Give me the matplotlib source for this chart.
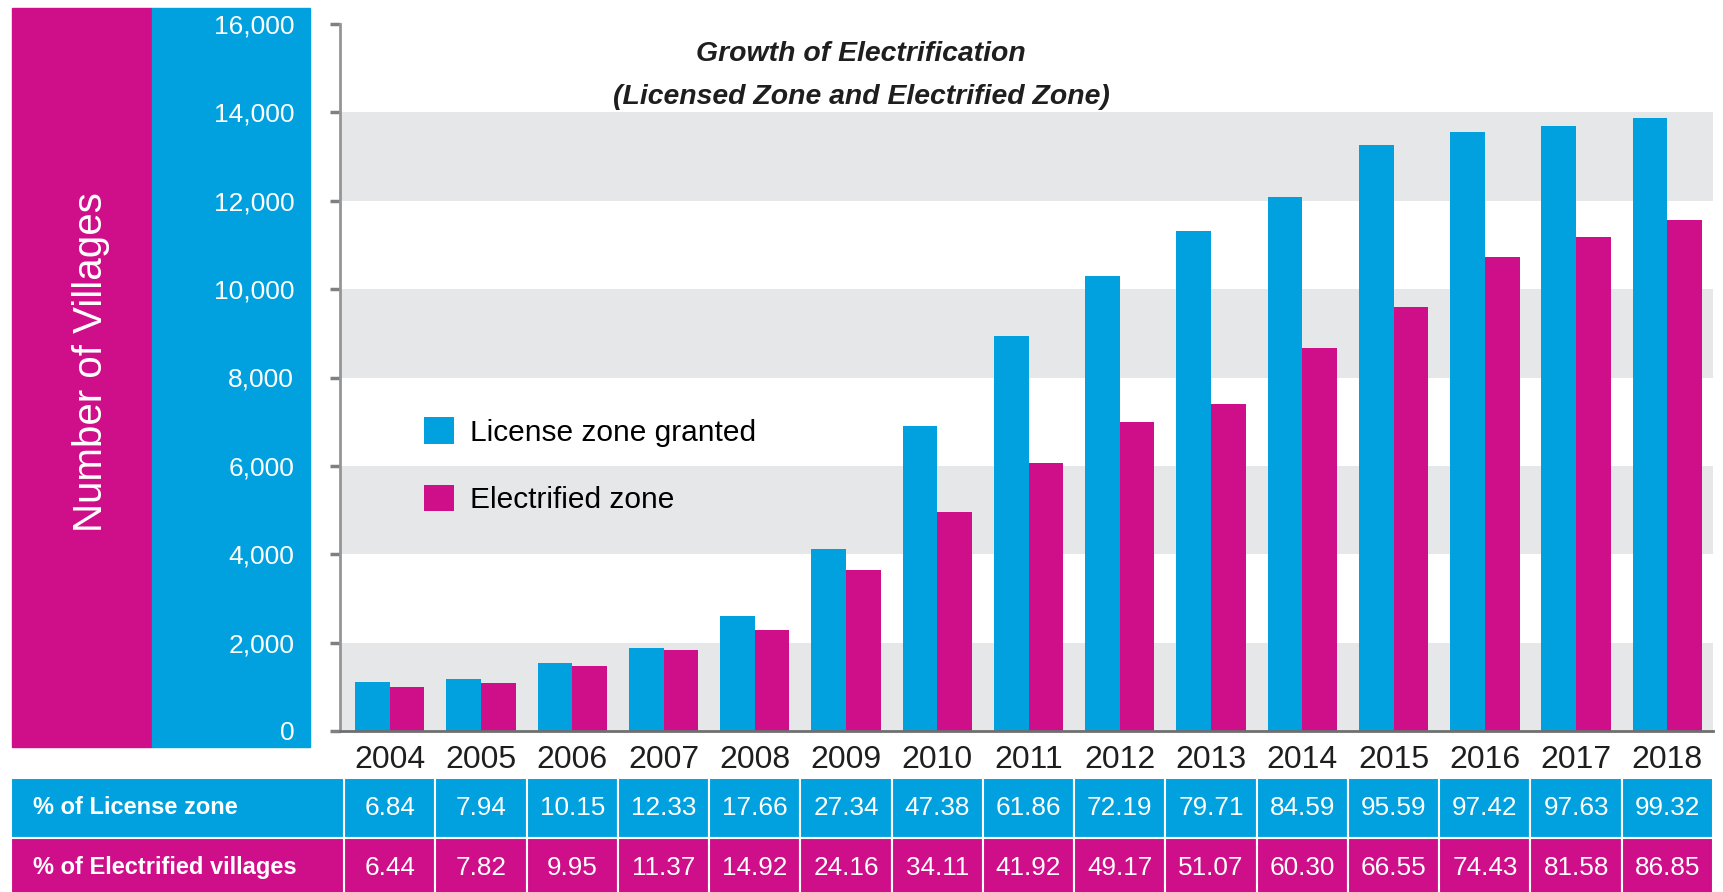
import numpy as np
import matplotlib.pyplot as plt
from matplotlib import font_manager
from matplotlib.patches import Rectangle

# ------------------------------- DATA ---------------------------------------
years = ["2004", "2005", "2006", "2007", "2008", "2009", "2010", "2011",
         "2012", "2013", "2014", "2015", "2016", "2017", "2018"]
license_zone = [1110, 1180, 1530, 1880, 2610, 4130, 6900, 8950,
                10300, 11320, 12090, 13260, 13560, 13690, 13880]
electrified_zone = [1000, 1090, 1470, 1830, 2280, 3640, 4950, 6070,
                    7000, 7400, 8660, 9590, 10730, 11180, 11570]
pct_license = ["6.84", "7.94", "10.15", "12.33", "17.66", "27.34", "47.38", "61.86",
               "72.19", "79.71", "84.59", "95.59", "97.42", "97.63", "99.32"]
pct_electrified = ["6.44", "7.82", "9.95", "11.37", "14.92", "24.16", "34.11", "41.92",
                   "49.17", "51.07", "60.30", "66.55", "74.43", "81.58", "86.85"]
row_labels = ["% of License zone", "% of Electrified villages"]
series_labels = ["License zone granted", "Electrified zone"]
yticks = np.arange(0, 16001, 2000)

# ------------------------------- STYLE --------------------------------------
BLUE = "#00A1DE"
MAGENTA = "#CF0F89"
BAND = "#E6E7E8"

def has_font(name):
    try:
        font_manager.findfont(font_manager.FontProperties(family=name),
                              fallback_to_default=False)
        return True
    except ValueError:
        return False

NARROW = has_font("Liberation Sans Narrow")
BASE = "Liberation Sans"
COND = "Liberation Sans Narrow" if NARROW else BASE
k = 1.2 if NARROW else 1.0  # narrow face needs a bigger size for the same width

plt.rcParams["font.family"] = [BASE, "DejaVu Sans"]

W, H = 1723, 892
fig = plt.figure(figsize=(W / 100, H / 100), dpi=100)

# left coloured panel behind the y labels
fig.patches.append(Rectangle((12 / W, 1 - 747 / H), 140 / W, 739 / H,
                             transform=fig.transFigure, color=MAGENTA, zorder=-2))
fig.patches.append(Rectangle((152 / W, 1 - 747 / H), 158 / W, 739 / H,
                             transform=fig.transFigure, color=BLUE, zorder=-2))

# ------------------------------- MAIN CHART ---------------------------------
ax = fig.add_axes([340 / W, 1 - 731 / H, 1373 / W, 707 / H])
ax.patch.set_alpha(0)
x = np.arange(len(years))

for lo in yticks[::2][:-1]:
    ax.axhspan(lo, lo + 2000, color=BAND, zorder=0, lw=0)

ax.bar(x - 0.19, license_zone, 0.38, color=BLUE, label=series_labels[0], zorder=2)
ax.bar(x + 0.19, electrified_zone, 0.38, color=MAGENTA, label=series_labels[1], zorder=2)

ax.set_xlim(-0.545, 14.5)
ax.set_ylim(0, 16000)
ax.set_yticks(yticks)
ax.set_yticklabels([f"{v:,}" for v in yticks])
ax.set_xticks(x)
ax.set_xticklabels(years)

for s in ["top", "right"]:
    ax.spines[s].set_visible(False)
ax.spines["left"].set_color("#959595")
ax.spines["left"].set_linewidth(2)
ax.spines["bottom"].set_color("#6f6f6f")
ax.spines["bottom"].set_linewidth(2)

ax.tick_params(axis="y", color="#808080", labelcolor="white", length=7, width=2.5,
               pad=26, labelsize=19)
ax.tick_params(axis="x", length=0, pad=10, labelsize=23, labelcolor="#1e1e1e")

ax.set_ylabel("Number of Villages", color="white", fontsize=29)
ax.yaxis.set_label_coords(-0.1675, 0.522)

ax.text(0.3795, 0.927, "Growth of Electrification\n(Licensed Zone and Electrified Zone)",
        transform=ax.transAxes, ha="center", va="center", multialignment="center",
        fontsize=20.4 * k, fontweight="bold", fontstyle="italic", family=[COND, BASE],
        linespacing=1.87, color="#1e1e1e")

ax.legend(loc="upper left", bbox_to_anchor=(0.061, 0.444), frameon=False,
          fontsize=21.5, handlelength=1.0, handleheight=1.0, handletextpad=0.55,
          labelspacing=1.27, borderpad=0, borderaxespad=0)

# ------------------------------- TABLE --------------------------------------
tax = fig.add_axes([11 / W, 1 - 898 / H, 1702 / W, 120 / H])
tax.set_xlim(-4.15, 14.5)
tax.set_ylim(0, 2)
tax.axis("off")

tax.bar(x, [1] * len(x), 1.0, bottom=1, color=BLUE, edgecolor="white", linewidth=1.5)
tax.bar(x, [1] * len(x), 1.0, bottom=0, color=MAGENTA, edgecolor="white", linewidth=1.5)
tax.bar([-2.325, -2.325], [1, 1], 3.65, bottom=[1, 0], color=[BLUE, MAGENTA],
        edgecolor="white", linewidth=1.5)

for i in range(len(x)):
    tax.text(x[i], 1.5, pct_license[i], ha="center", va="center", color="white",
             fontsize=18.8 * k, family=[COND, BASE])
    tax.text(x[i], 0.5, pct_electrified[i], ha="center", va="center", color="white",
             fontsize=18.8 * k, family=[COND, BASE])
for j, lab in enumerate(row_labels):
    tax.text(-3.91, 1.5 - j, lab, ha="left", va="center", color="white",
             fontsize=17 * k, fontweight="bold", family=[COND, BASE])

fig.savefig("out.png", dpi=100)
